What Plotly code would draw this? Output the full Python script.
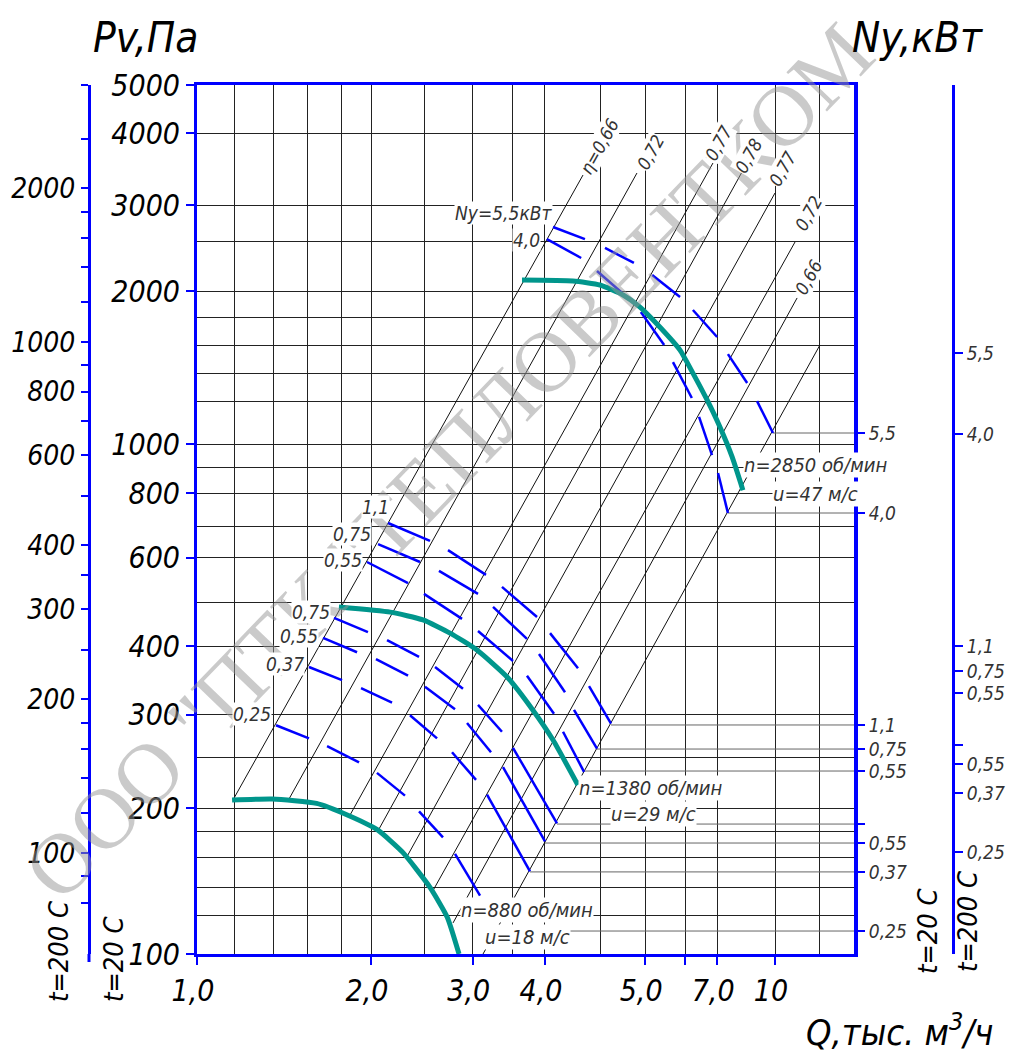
import plotly.graph_objects as go

# ---------------- data ----------------
# fan characteristics: Q (thousand m3/h), Pv (Pa)
fan_880_q = [1.15, 1.35, 1.61, 1.82, 2.05, 2.27, 2.53, 2.71, 2.84]
fan_880_p = [200, 201, 197, 187, 175, 158, 135, 118, 100]
fan_1380_q = [1.76, 2.16, 2.46, 2.74, 3.05, 3.44, 3.81, 4.13, 4.56]
fan_1380_p = [477, 466, 450, 424, 393, 348, 300, 262, 214]
fan_2850_q = [3.65, 4.47, 4.98, 5.46, 5.84, 6.32, 6.85, 7.21, 7.63, 8.03, 8.43, 8.80]
fan_2850_p = [2078, 2069, 2032, 1943, 1840, 1682, 1516, 1367, 1211, 1072, 937, 807]

# motor power curves, dash by dash (start, end, start, end ...)
pw_2850_55_q = [4.13, 4.69, 5.08, 5.70, 6.13, 6.85, 7.21, 7.94, 8.29, 8.95, 9.31, 9.92]
pw_2850_55_p = [2638, 2499, 2401, 2244, 2126, 1925, 1816, 1608, 1489, 1307, 1205, 1044]
pw_2850_40_q = [4.03, 4.62, 4.92, 5.44, 5.86, 6.43, 6.66, 7.18, 7.39, 7.78, 7.97, 8.29]
pw_2850_40_p = [2499, 2295, 2164, 1960, 1799, 1551, 1436, 1222, 1122, 945, 872, 728]
pw_1380_11_q = [2.140, 2.530, 2.718, 3.162, 3.370, 3.875, 4.081, 4.562, 4.767, 5.203]
pw_1380_11_p = [696, 642, 616, 551, 522, 456, 424, 362, 334, 282]
pw_1380_075_q = [2.057, 2.431, 2.622, 3.063, 3.252, 3.723, 3.906, 4.332, 4.490, 4.921]
pw_1380_075_p = [633, 584, 561, 506, 477, 413, 386, 325, 300, 252]
pw_1380_055_q = [1.968, 2.318, 2.470, 2.874, 3.063, 3.521, 3.723, 4.146, 4.298, 4.673]
pw_1380_055_p = [584, 531, 506, 452, 428, 374, 350, 295, 272, 227]
pw_880_075_q = [1.726, 1.976, 2.132, 2.422, 2.581, 2.885, 3.063, 3.370, 3.521, 4.196]
pw_880_075_p = [454, 426, 411, 381, 364, 330, 307, 272, 253, 180]
pw_880_055_q = [1.652, 1.892, 2.040, 2.318, 2.480, 2.795, 2.932, 3.226, 3.384, 4.000]
pw_880_055_p = [415, 389, 377, 350, 333, 301, 283, 248, 232, 166]
pw_880_037_q = [1.562, 1.782, 1.922, 2.175, 2.336, 2.602, 2.762, 3.039, 3.175, 3.768]
pw_880_037_p = [364, 343, 331, 310, 293, 264, 248, 219, 205, 145]
pw_880_025_q = [1.370, 1.562, 1.679, 1.907, 2.048, 2.290, 2.422, 2.664, 2.795, 3.088]
pw_880_025_p = [280, 264, 255, 237, 226, 204, 190, 169, 157, 130]

# efficiency lines (start / end)
eta_labels = ["η=0,66", "0,72", "0,77", "0,78", "0,77", "0,72", "0,66"]
eta_q_start = [1.154, 1.443, 1.840, 2.056, 2.308, 2.560, 2.773]
eta_p_start = [200, 201, 187, 174, 155, 133, 115]
eta_q_end = [4.654, 5.770, 7.810, 8.768, 10.00, 10.83, 10.92]
eta_p_end = [3334, 3364, 3519, 3380, 3075, 2466, 1917]
limit_q = [3.125, 11.96]
limit_p = [100, 1551]

# axis ticks
x_major_vals = [1.0, 2.0, 3.0, 4.0, 5.96, 6.99, 7.94, 10.0]
x_major_text = ["1,0", "2,0", "3,0", "4,0", "5,0", "", "7,0", "10"]
x_minor_vals = [1.159, 1.354, 1.556, 1.775, 2.48, 3.52, 4.98, 11.92]
y_major_vals = [100, 192.9, 293.3, 400.1, 594.6, 796.7, 993.3, 1977.9, 2913, 4028, 5000]
y_major_text = ["100", "200", "300", "400", "600", "800", "1000", "2000", "3000", "4000", "5000"]
y_minor_vals = [118.7, 135.2, 154.1, 173.2, 242.7, 487.7, 686.7, 895.6, 1205.5,
                1367.4, 1551.1, 1759.4, 2477]
p200_vals = [80, 90, 100, 120, 140, 160, 180, 200, 250, 300, 350, 400, 500, 600, 700,
             800, 900, 1000, 1200, 1400, 1600, 1800, 2000, 2500, 3180]
p200_text = ["", "", "100", "", "", "", "", "200", "", "300", "", "400", "", "600", "",
             "800", "", "1000", "", "", "", "", "2000", "", ""]
ny20_pos = [1043.7, 728.1, 280.4, 251.6, 227.9, 179.5, 164.8, 144.7, 110.9]
ny20_text = ["5,5", "4,0", "1,1", "0,75", "0,55", "", "0,55", "0,37", "0,25"]
ny200_pos = [1496, 1039, 400.1, 357.5, 323.8, 256.2, 235.2, 206.4, 158.3]
ny200_text = ["5,5", "4,0", "1,1", "0,75", "0,55", "", "0,55", "0,37", "0,25"]
conn_q_start = [9.92, 8.29, 5.203, 4.921, 4.673, 4.196, 4.000, 3.768, 4.42]
Q_MAX = 13.75

# ---------------- layout helpers ----------------
W, H = 1008, 1044
OFF = 8
ML, MR, MT, MB = 30, 10, 30, 30
PW, PH = W - ML - MR, H - MT - MB


def xp(px):
    return (px - OFF - ML) / PW


def yp(py):
    return 1 - (py - OFF - MT) / PH


FONT = "Liberation Sans Narrow, DejaVu Sans Condensed, Liberation Sans, sans-serif"
BLUE = "#0000FF"
TEAL = "#00968C"

fig = go.Figure()


def pairs(q, p):
    xs, ys = [], []
    for i in range(0, len(q), 2):
        xs += [q[i], q[i + 1], None]
        ys += [p[i], p[i + 1], None]
    return xs, ys


# efficiency lines
for q0, p0, q1, p1 in zip(eta_q_start, eta_p_start, eta_q_end, eta_p_end):
    fig.add_trace(go.Scatter(x=[q0, q1], y=[p0, p1], mode="lines",
                             line=dict(color="#111", width=1), hoverinfo="skip"))
fig.add_trace(go.Scatter(x=limit_q, y=limit_p, mode="lines",
                         line=dict(color="#111", width=1), hoverinfo="skip"))

# connector lines to the power scale
for q0, p in zip(conn_q_start, ny20_pos):
    fig.add_trace(go.Scatter(x=[q0, Q_MAX], y=[p, p], mode="lines",
                             line=dict(color="#666", width=1), hoverinfo="skip"))

# power curves
for q, p in [(pw_2850_55_q, pw_2850_55_p), (pw_2850_40_q, pw_2850_40_p),
             (pw_1380_11_q, pw_1380_11_p), (pw_1380_075_q, pw_1380_075_p),
             (pw_1380_055_q, pw_1380_055_p), (pw_880_075_q, pw_880_075_p),
             (pw_880_055_q, pw_880_055_p), (pw_880_037_q, pw_880_037_p),
             (pw_880_025_q, pw_880_025_p)]:
    xs, ys = pairs(q, p)
    fig.add_trace(go.Scatter(x=xs, y=ys, mode="lines", connectgaps=False,
                             line=dict(color=BLUE, width=2.5), hoverinfo="skip"))

# fan curves
for q, p in [(fan_880_q, fan_880_p), (fan_1380_q, fan_1380_p), (fan_2850_q, fan_2850_p)]:
    fig.add_trace(go.Scatter(x=q, y=p, mode="lines",
                             line=dict(color=TEAL, width=5, shape="spline", smoothing=0.5),
                             hoverinfo="skip"))

# dummy traces for the extra scales
for ax in ["y2", "y3", "y4"]:
    fig.add_trace(go.Scatter(x=[1.5], y=[300], yaxis=ax, mode="markers",
                             marker=dict(opacity=0), hoverinfo="skip"))

big_font = dict(family=FONT, size=30, color="black", style="italic")
outer_font = dict(family=FONT, size=28, color="black", style="italic")
small_font = dict(family=FONT, size=19, color="#333", style="italic")

fig.update_layout(
    width=W, height=H, showlegend=False, template="none",
    margin=dict(l=ML, r=MR, t=MT, b=MB, autoexpand=False),
    paper_bgcolor="white", plot_bgcolor="white",
    xaxis=dict(type="log", range=[0, 1.1384], domain=[xp(197), xp(855)],
               automargin=False,
               tickmode="array", tickvals=x_major_vals, ticktext=x_major_text,
               ticks="outside", ticklen=8, tickwidth=2, tickcolor=BLUE,
               tickfont=big_font, ticklabelshift=-4,
               showline=True, linecolor=BLUE, linewidth=3, mirror=True,
               showgrid=True, gridcolor="#222", gridwidth=1, zeroline=False,
               minor=dict(tickmode="array", tickvals=x_minor_vals, showgrid=True,
                          gridcolor="#222", gridwidth=1, ticks="")),
    yaxis=dict(type="log", range=[2, 3.69897], domain=[yp(954), yp(85)],
               automargin=False,
               tickmode="array", tickvals=y_major_vals, ticktext=y_major_text,
               ticks="outside", ticklen=8, tickwidth=2, tickcolor=BLUE,
               tickfont=big_font,
               showline=True, linecolor=BLUE, linewidth=3, mirror=True,
               showgrid=True, gridcolor="#222", gridwidth=1, zeroline=False,
               minor=dict(tickmode="array", tickvals=y_minor_vals, showgrid=True,
                          gridcolor="#222", gridwidth=1, ticks="")),
    yaxis2=dict(type="log", range=[1.80235, 3.50294], overlaying="y", anchor="free",
                position=xp(89), side="left", automargin=False,
                tickmode="array", tickvals=p200_vals, ticktext=p200_text,
                ticks="outside", ticklen=7, tickwidth=2, tickcolor=BLUE,
                tickfont=outer_font, showline=True, linecolor=BLUE, linewidth=3,
                showgrid=False, zeroline=False),
    yaxis3=dict(type="log", range=[2, 3.69897], overlaying="y", anchor="free",
                position=xp(855), side="right", automargin=False,
                tickmode="array", tickvals=ny20_pos, ticktext=ny20_text,
                ticks="outside", ticklen=8, tickwidth=2, tickcolor=BLUE,
                tickfont=small_font, showline=True, linecolor=BLUE, linewidth=3,
                showgrid=False, zeroline=False),
    yaxis4=dict(type="log", range=[2, 3.69897], overlaying="y", anchor="free",
                position=xp(953), side="right", automargin=False,
                tickmode="array", tickvals=ny200_pos, ticktext=ny200_text,
                ticks="outside", ticklen=8, tickwidth=2, tickcolor=BLUE,
                tickfont=small_font, showline=True, linecolor=BLUE, linewidth=3,
                showgrid=False, zeroline=False),
)

# extension of the outer left scale line
fig.add_shape(type="line", xref="paper", yref="paper", x0=xp(89), x1=xp(89),
              y0=yp(954), y1=yp(962), line=dict(color=BLUE, width=3))

ann = []


def text(t, px, py, size=20, color="#333", angle=0, bg=None, family=FONT, style="italic"):
    d = dict(text=t, x=xp(px), y=yp(py), xref="paper", yref="paper", showarrow=False,
             xanchor="center", yanchor="middle", textangle=angle,
             font=dict(family=family, size=size, color=color, style=style))
    if bg:
        d.update(bgcolor=bg, borderpad=0)
    ann.append(d)


# watermark (drawn first, below the other texts)
ann.append(dict(text='ООО "ПТК "ТЕПЛОВЕНТКОМ', x=xp(448), y=yp(462),
                xref="paper", yref="paper", showarrow=False, textangle=-46,
                xanchor="center", yanchor="middle",
                font=dict(family="Liberation Serif, DejaVu Serif, serif", size=86,
                          color="rgba(150,150,150,0.5)")))

# titles
text("Pv,Па", 145, 37, 42, "black")
text("Ny,кВт", 917, 37, 42, "black")
text("Q,тыс. м<sup>3</sup>/ч", 900, 1030, 36, "black")
text("t=200 C", 58, 952, 27, "black", -90)
text("t=20 C", 113, 960, 27, "black", -90)
text("t=20 C", 927, 932, 27, "black", -90)
text("t=200 C", 967, 922, 27, "black", -90)

# fan labels
text("n=2850 об/мин", 815, 465, 20, bg="white")
text("u=47 м/с", 815, 494, 20, bg="white")
text("n=1380 об/мин", 650, 788, 20, bg="white")
text("u=29 м/с", 653, 814, 20, bg="white")
text("n=880 об/мин", 527, 910, 20, bg="white")
text("u=18 м/с", 527, 937, 20, bg="white")

# power labels
text("Ny=5,5кВт", 503, 213, 19, bg="white")
for t, px, py in [("4,0", 526, 240), ("1,1", 375, 507), ("0,75", 352, 534),
                  ("0,55", 343, 560), ("0,75", 311, 612), ("0,55", 299, 636),
                  ("0,37", 285, 664), ("0,25", 252, 714)]:
    text(t, px, py, 19, bg="white")

# efficiency labels
for t, px, py in zip(eta_labels, [599, 650, 718, 749, 783, 808, 808],
                     [146, 152, 143, 156, 169, 213, 277]):
    text(t, px, py, 18, angle=-61, bg="white")

fig.update_layout(annotations=ann)
fig.write_html("out.html")
